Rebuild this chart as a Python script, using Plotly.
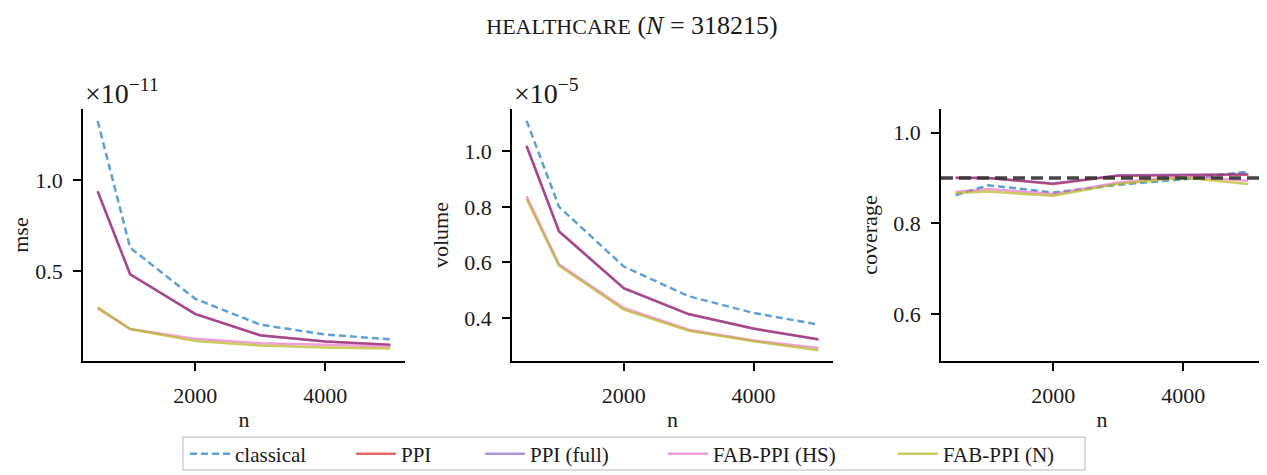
import plotly.graph_objects as go

n_vals = [500, 1000, 2000, 3000, 4000, 5000]
series_names = ["classical", "PPI", "PPI (full)", "FAB-PPI (HS)", "FAB-PPI (N)"]

# mse (units of 1e-11)
mse = {
    "classical":    [1.323, 0.627, 0.347, 0.205, 0.151, 0.124],
    "PPI":          [0.938, 0.482, 0.264, 0.147, 0.113, 0.095],
    "PPI (full)":   [0.936, 0.481, 0.263, 0.146, 0.112, 0.094],
    "FAB-PPI (HS)": [0.296, 0.181, 0.127, 0.103, 0.095, 0.085],
    "FAB-PPI (N)":  [0.300, 0.181, 0.115, 0.090, 0.080, 0.074],
}
# volume (units of 1e-5)
volume = {
    "classical":    [1.110, 0.800, 0.585, 0.478, 0.418, 0.376],
    "PPI":          [1.020, 0.712, 0.507, 0.414, 0.362, 0.323],
    "PPI (full)":   [1.018, 0.711, 0.506, 0.413, 0.361, 0.322],
    "FAB-PPI (HS)": [0.838, 0.593, 0.436, 0.358, 0.319, 0.292],
    "FAB-PPI (N)":  [0.828, 0.588, 0.430, 0.354, 0.316, 0.284],
}
coverage = {
    "classical":    [0.862, 0.884, 0.868, 0.885, 0.897, 0.914],
    "PPI":          [0.900, 0.900, 0.887, 0.905, 0.906, 0.907],
    "PPI (full)":   [0.901, 0.900, 0.888, 0.906, 0.907, 0.909],
    "FAB-PPI (HS)": [0.869, 0.876, 0.865, 0.890, 0.904, 0.894],
    "FAB-PPI (N)":  [0.867, 0.870, 0.861, 0.887, 0.901, 0.887],
}
target_coverage = 0.9

colors = {
    "classical": "rgba(40,130,200,0.75)",
    "PPI": "rgba(215,40,40,0.7)",
    "PPI (full)": "rgba(100,40,180,0.5)",
    "FAB-PPI (HS)": "rgba(230,97,190,0.6)",
    "FAB-PPI (N)": "rgba(182,182,28,0.7)",
}
dashes = {"classical": "7px,4px"}

# page body has an 8px margin: the figure is drawn at (8, 8)
OFF = 8
W, H = 1267 - OFF, 475 - OFF
FONT = "Liberation Serif"
TXT = "#1a1a1a"

def px_x(v):
    return (v - OFF) / W

def px_y(v):
    return 1 - (v - OFF) / H

xdom = [[px_x(83), px_x(405)], [px_x(512), px_x(833)], [px_x(941), px_x(1263)]]
ydom = [px_y(363), px_y(110)]

legend_ids = ["legend", "legend2", "legend3", "legend4", "legend5"]
legend_left = [185, 351, 480, 663, 893]

fig = go.Figure()
panels = [(mse, "mse", [0.007, 1.387], [0.5, 1.0]),
          (volume, "volume", [0.246, 1.151], [0.4, 0.6, 0.8, 1.0]),
          (coverage, "coverage", [0.498, 1.051], [0.6, 0.8, 1.0])]

for i, (data, ylabel, yr, yt) in enumerate(panels):
    xa = "x" if i == 0 else f"x{i+1}"
    ya = "y" if i == 0 else f"y{i+1}"
    for k, name in enumerate(series_names):
        fig.add_trace(go.Scatter(
            x=n_vals, y=data[name], mode="lines", name=name,
            line=dict(color=colors[name], width=2.5, dash=dashes.get(name, "solid")),
            xaxis=xa, yaxis=ya, showlegend=(i == 0), legendgroup=name,
            legend=legend_ids[k],
        ))
    axkey = "" if i == 0 else str(i + 1)
    fig.update_layout(**{
        f"xaxis{axkey}": dict(
            domain=xdom[i], range=[275, 5225], tickvals=[2000, 4000],
            showgrid=False, zeroline=False, showline=True, linecolor="black", linewidth=1.8,
            ticks="outside", ticklen=8, tickwidth=1.6, tickcolor="black",
            ticklabelstandoff=6,
            anchor=ya, automargin=False,
            title=dict(text="n", standoff=5, font=dict(size=22, family=FONT, color=TXT)),
            tickfont=dict(size=22, family=FONT, color=TXT),
        ),
        f"yaxis{axkey}": dict(
            domain=ydom, range=yr, tickvals=yt, tickformat=".1f",
            showgrid=False, zeroline=False, showline=True, linecolor="black", linewidth=1.8,
            ticks="outside", ticklen=8, tickwidth=1.6, tickcolor="black",
            ticklabelstandoff=6,
            anchor=xa, automargin=False,
            title=dict(text=ylabel, standoff=9, font=dict(size=22, family=FONT, color=TXT)),
            tickfont=dict(size=22, family=FONT, color=TXT),
        ),
    })

fig.add_shape(type="line", xref="x3 domain", yref="y3", x0=0, x1=1,
              y0=target_coverage, y1=target_coverage,
              line=dict(color="rgba(50,50,50,0.9)", width=3.5, dash="12px,6px"))

# legend frame
fig.add_shape(type="rect", xref="paper", yref="paper",
              x0=px_x(183), x1=px_x(1085), y0=px_y(473), y1=px_y(440),
              line=dict(color="#d0d0d0", width=1.5), fillcolor="white", layer="below")

fig.add_annotation(text="×10<sup>−11</sup>", xref="paper", yref="paper",
                   x=px_x(83), y=px_y(92), xanchor="left", yanchor="middle",
                   showarrow=False, font=dict(size=28, family=FONT, color=TXT))
fig.add_annotation(text="×10<sup>−5</sup>", xref="paper", yref="paper",
                   x=px_x(512), y=px_y(92), xanchor="left", yanchor="middle",
                   showarrow=False, font=dict(size=28, family=FONT, color=TXT))

legends = {}
for k, lid in enumerate(legend_ids):
    legends[lid] = dict(orientation="h", x=px_x(legend_left[k]), xanchor="left",
                        y=px_y(457), yanchor="middle", borderwidth=0,
                        bgcolor="rgba(0,0,0,0)", itemwidth=40,
                        font=dict(size=21, family=FONT, color=TXT))

fig.update_layout(
    width=W, height=H,
    margin=dict(l=0, r=0, t=0, b=0),
    paper_bgcolor="white", plot_bgcolor="white",
    font=dict(family=FONT, size=22, color=TXT),
    title=dict(text="<span style='font-size:22px'>HEALTHCARE</span> (<i>N</i> = 318215)",
               x=px_x(632), xanchor="center",
               y=px_y(25), yanchor="middle",
               font=dict(size=26, family=FONT, color=TXT)),
    **legends,
)

fig.write_html("out.html")
